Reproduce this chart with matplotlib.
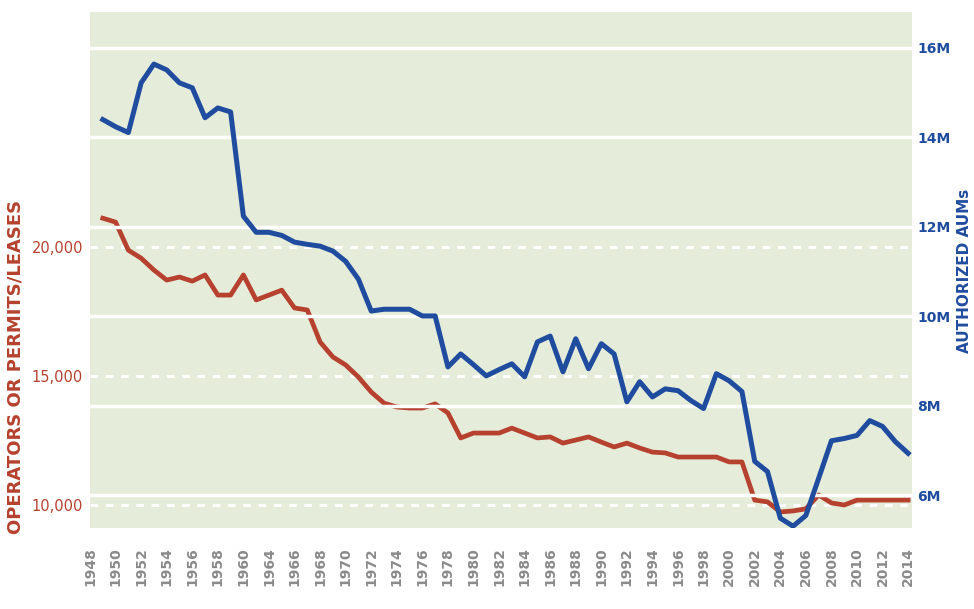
import numpy as np
import matplotlib
matplotlib.use("Agg")
import matplotlib.pyplot as plt

# x-axis labels as printed on the chart (1962 is not labelled)
tick_labels = ["1948", "1950", "1952", "1954", "1956", "1958", "1960", "1964",
               "1966", "1968", "1970", "1972", "1974", "1976", "1978", "1980",
               "1982", "1984", "1986", "1988", "1990", "1992", "1994", "1996",
               "1998", "2000", "2002", "2004", "2006", "2008", "2010", "2012",
               "2014"]

# operators or permits/leases (left axis), one value per year
operators = [21120, 20970, 19880, 19570, 19110, 18720, 18840, 18680, 18920, 18140,
             18140, 18920, 17950, 18140, 18330, 17640, 17560, 16320, 15740, 15430,
             14960, 14380, 13950, 13800, 13760, 13760, 13920, 13570, 12600, 12790,
             12790, 12790, 12980, 12790, 12600, 12640, 12400, 12520, 12640, 12440,
             12250, 12400, 12210, 12050, 12020, 11860, 11860, 11860, 11860, 11670,
             11670, 10190, 10120, 9730, 9770, 9850, 10390, 10080, 10000, 10190,
             10190, 10190, 10190, 10190]

# authorized AUMs in millions (right axis)
aums = [14.40, 14.24, 14.11, 15.22, 15.64, 15.51, 15.22, 15.11, 14.44, 14.66,
        14.57, 12.24, 11.88, 11.88, 11.81, 11.66, 11.61, 11.57, 11.46, 11.23,
        10.83, 10.12, 10.16, 10.16, 10.16, 10.01, 10.01, 8.87, 9.16, 8.92,
        8.67, 8.81, 8.94, 8.65, 9.43, 9.56, 8.76, 9.50, 8.83, 9.39,
        9.16, 8.09, 8.54, 8.20, 8.38, 8.34, 8.12, 7.94, 8.72, 8.56,
        8.32, 6.76, 6.53, 5.49, 5.31, 5.55, 6.38, 7.22, 7.27, 7.34,
        7.67, 7.54, 7.20, 6.94]

left_ticks = [10000, 15000, 20000]
right_ticks = [6, 8, 10, 12, 14, 16]

red = "#b5412e"
blue = "#1f4c9e"
bg = "#e5ecd9"

# two data points per labelled interval
x = np.arange(1, len(aums) + 1) * 0.5

fig = plt.figure(figsize=(9.74, 6.09), dpi=100)
ax = fig.add_axes([0.0924, 0.133, 0.8439, 0.847])
ax2 = ax.twinx()

ax.set_facecolor(bg)
for a in (ax, ax2):
    for s in a.spines.values():
        s.set_visible(False)

ax.set_xlim(0, 32.15)
ax.set_ylim(9108, 29109)
ax2.set_ylim(5.27, 16.8)

# grid lines: solid for right axis, dashed for left
for v in right_ticks:
    ax2.axhline(v, color="white", lw=2.5, zorder=1)
for v in left_ticks:
    ax.axhline(v, color="white", lw=2.2, ls=(0, (2.5, 2.5)), zorder=1)

ax.plot(x, operators, color=red, lw=3.4, solid_joinstyle="round", zorder=3)
ax2.plot(x, aums, color=blue, lw=3.6, solid_joinstyle="round", zorder=3)

ax.set_xticks(range(len(tick_labels)))
ax.set_xticklabels(tick_labels, rotation=90, fontsize=10, fontweight="bold",
                   color="#8a8a8a")
ax.tick_params(axis="x", length=0, pad=14)

ax.set_yticks(left_ticks)
ax.set_yticklabels([f"{v:,}" for v in left_ticks], fontsize=10.5, color=red)
ax.tick_params(axis="y", length=0, pad=5)

ax2.set_yticks(right_ticks)
ax2.set_yticklabels([f"{v}M" for v in right_ticks], fontsize=10,
                    fontweight="bold", color=blue)
ax2.tick_params(axis="y", length=0, pad=4)

fig.text(0.016, 0.397, "OPERATORS OR PERMITS/LEASES", rotation=90, ha="center",
         va="center", fontsize=13, fontweight="bold", color=red)
fig.text(0.99, 0.555, "AUTHORIZED AUMs", rotation=90, ha="center",
         va="center", fontsize=11, fontweight="bold", color=blue)

fig.savefig("out.png", dpi=100, facecolor="white")
